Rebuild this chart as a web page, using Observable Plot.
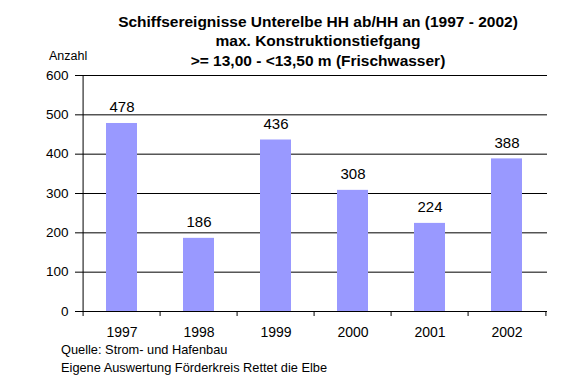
<!DOCTYPE html>
<html>
<head>
<meta charset="utf-8">
<script src="https://cdn.jsdelivr.net/npm/d3@7"></script>
<script src="https://cdn.jsdelivr.net/npm/@observablehq/plot@0.6"></script>
<style>
  html, body { margin: 0; padding: 0; background: #fff; }
  #wrap { position: relative; width: 587px; height: 386px; font-family: "Liberation Sans", Arial, sans-serif; color: #000; }
  #title { position: absolute; left: 0; width: 636px; top: 11.5px; text-align: center; font-weight: bold; font-size: 15.5px; line-height: 19.5px; }
  #ylab { position: absolute; left: 49px; top: 49px; font-size: 12.5px; line-height: 14px; }
  #caption { position: absolute; left: 61px; top: 341px; font-size: 12.8px; line-height: 17.6px; }
  #chart { position: absolute; left: 0; top: 0; }
</style>
</head>
<body>
<div id="wrap">
  <div id="chart"></div>
  <div id="title">Schiffsereignisse Unterelbe HH ab/HH an (1997 - 2002)<br>max. Konstruktionstiefgang<br>&gt;= 13,00 - &lt;13,50 m (Frischwasser)</div>
  <div id="ylab">Anzahl</div>
  <div id="caption">Quelle: Strom- und Hafenbau<br>Eigene Auswertung Förderkreis Rettet die Elbe</div>
</div>
<script>
const years = ["1997", "1998", "1999", "2000", "2001", "2002"];
const counts = [478, 186, 436, 308, 224, 388];
const yTicks = [0, 100, 200, 300, 400, 500, 600];

const data = years.map((y, i) => ({year: y, count: counts[i]}));

const W = 587, H = 386, mL = 80, mR = 40, mT = 75, mB = 75;
const bw = (W - mL - mR) / years.length;
const pxPerUnit = (H - mT - mB) / 600;
const tickLen = 5 / pxPerUnit;

const chart = Plot.plot({
  width: W,
  height: H,
  marginLeft: mL,
  marginRight: mR,
  marginTop: mT,
  marginBottom: mB,
  style: {fontFamily: "'Liberation Sans', Arial, sans-serif", color: "#000", background: "transparent"},
  x: {domain: years, padding: 0, label: null},
  y: {domain: [0, 600], label: null},
  marks: [
    Plot.ruleY(yTicks, {stroke: "#000", strokeWidth: 1}),
    Plot.barY(data, {x: "year", y: "count", fill: "#9999ff", insetLeft: 23, insetRight: 23}),
    Plot.ruleX([years[0]], {x: d => d, dx: -bw / 2, y1: 0, y2: 600, stroke: "#000"}),
    Plot.ruleX(years, {x: d => d, dx: -bw / 2, y1: 0, y2: -tickLen, stroke: "#000"}),
    Plot.ruleX([years[years.length - 1]], {x: d => d, dx: bw / 2, y1: 0, y2: -tickLen, stroke: "#000"}),
    Plot.axisY({ticks: yTicks, tickSize: 5, tickPadding: 7, fontSize: 13.5, label: null, tickFormat: d => String(d)}),
    Plot.axisX({tickSize: 0, tickPadding: 16, fontSize: 14, label: null}),
    Plot.text(data, {x: "year", y: "count", text: d => String(d.count), lineAnchor: "bottom", dy: -11, fontSize: 15, fill: "#000"})
  ]
});
document.getElementById("chart").appendChild(chart);
</script>
</body>
</html>
